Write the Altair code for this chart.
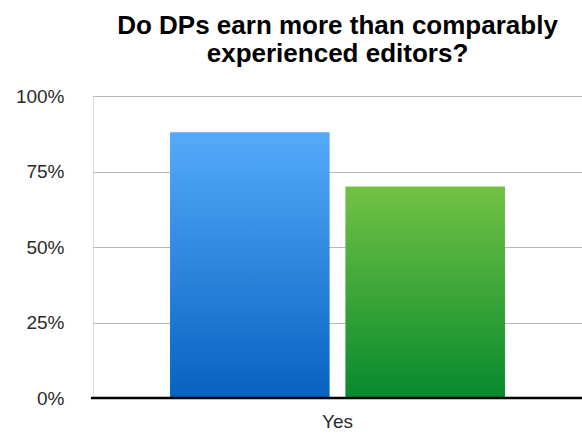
import altair as alt
import pandas as pd

categories = ["Yes", "Yes"]
series = ["DPs", "Editors"]
values = [0.88, 0.70]
y_ticks = [0, 0.25, 0.5, 0.75, 1.0]

df = pd.DataFrame({"category": categories, "series": series, "value": values})

blue = alt.Gradient(gradient="linear", x1=0, y1=0, x2=0, y2=1,
                    stops=[alt.GradientStop(color="#55aafb", offset=0),
                           alt.GradientStop(color="#0762c0", offset=1)])
green = alt.Gradient(gradient="linear", x1=0, y1=0, x2=0, y2=1,
                     stops=[alt.GradientStop(color="#72c244", offset=0),
                            alt.GradientStop(color="#078a2e", offset=1)])

x_enc = alt.X("category:N", title=None,
              scale=alt.Scale(paddingInner=0, paddingOuter=0.23),
              axis=alt.Axis(labelAngle=0, labelFontSize=19, labelColor="#2a2a2a",
                            labelFont="Liberation Sans", labelPadding=14,
                            domain=False, ticks=False))
xo_enc = alt.XOffset("series:N", scale=alt.Scale(paddingInner=0.09, paddingOuter=0,
                                                 domain=series))
y_enc = alt.Y("value:Q", title=None,
              scale=alt.Scale(domain=[0, 1]),
              axis=alt.Axis(values=y_ticks, format=".0%", labelFontSize=19,
                            labelColor="#2a2a2a", labelFont="Liberation Sans",
                            labelPadding=29, ticks=False, domain=False,
                            gridColor="#b8b8b8", gridWidth=1))

base = alt.Chart(df)
bars_blue = base.transform_filter(alt.datum.series == "DPs").mark_bar(
    color=blue).encode(x=x_enc, xOffset=xo_enc, y=y_enc)
bars_green = base.transform_filter(alt.datum.series == "Editors").mark_bar(
    color=green).encode(x=x_enc, xOffset=xo_enc, y=y_enc)

baseline = alt.Chart(pd.DataFrame({"v": [0]})).mark_rule(
    color="#000000", strokeWidth=2.5).encode(
    y=alt.Y("v:Q", scale=alt.Scale(domain=[0, 1])),
    x=alt.value(-2), x2=alt.value(489))

chart = alt.layer(bars_blue, bars_green, baseline).properties(
    width=489, height=302,
    title=alt.TitleParams(
        text=["Do DPs earn more than comparably", "experienced editors?"],
        font="Liberation Sans", fontSize=26, fontWeight="bold", color="#000000",
        anchor="middle", lineHeight=28, offset=20),
    autosize=alt.AutoSizeParams(type="none"),
    padding={"left": 93, "top": 96, "right": 0, "bottom": 36},
).configure_view(stroke=None).configure(background="white")

chart.save("out.html", embed_options={"renderer": "svg", "actions": False})
